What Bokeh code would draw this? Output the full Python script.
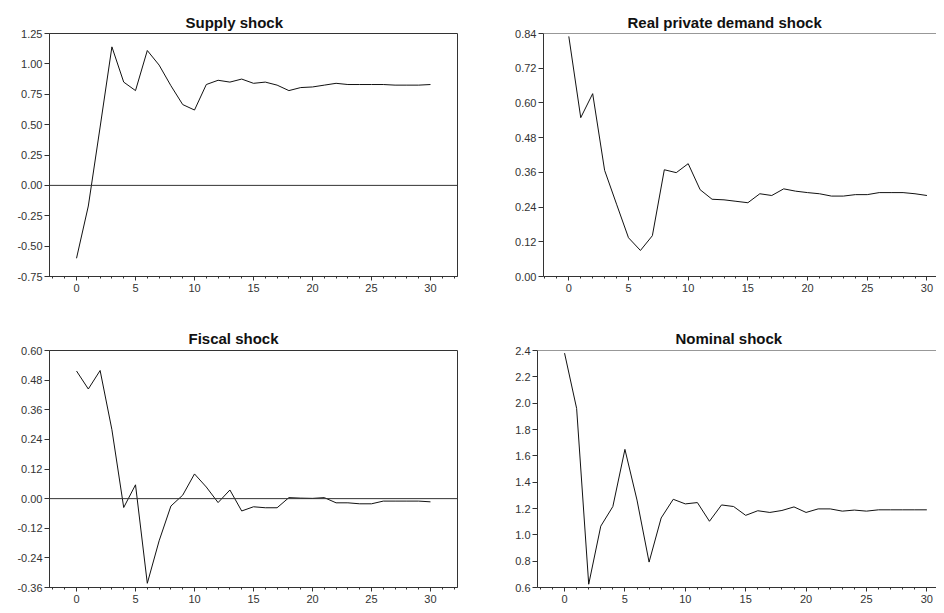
from bokeh.plotting import figure
from bokeh.layouts import column, row
from bokeh.models import FixedTicker, PrintfTickFormatter, Span, Title
from bokeh.embed import file_html
from bokeh.resources import INLINE

periods = list(range(31))

supply = [-0.60, -0.17, 0.48, 1.14, 0.85, 0.78, 1.11, 0.99, 0.82, 0.665, 0.62,
          0.83, 0.865, 0.85, 0.875, 0.84, 0.85, 0.825, 0.78, 0.805, 0.81,
          0.825, 0.84, 0.83, 0.83, 0.83, 0.83, 0.825, 0.825, 0.825, 0.83]
demand = [0.83, 0.549, 0.632, 0.367, 0.25, 0.134, 0.09, 0.141, 0.369, 0.359, 0.39,
          0.30, 0.267, 0.265, 0.26, 0.255, 0.286, 0.28, 0.303, 0.295, 0.29,
          0.286, 0.278, 0.278, 0.283, 0.283, 0.29, 0.29, 0.29, 0.286, 0.28]
fiscal = [0.517, 0.444, 0.519, 0.279, -0.036, 0.056, -0.343, -0.171, -0.03, 0.014, 0.10,
          0.047, -0.016, 0.035, -0.05, -0.033, -0.037, -0.037, 0.004, 0.002, 0.001,
          0.004, -0.017, -0.017, -0.021, -0.021, -0.01, -0.01, -0.01, -0.01, -0.013]
nominal = [2.38, 1.96, 0.625, 1.066, 1.215, 1.649, 1.264, 0.793, 1.128, 1.27, 1.235,
           1.245, 1.103, 1.227, 1.215, 1.148, 1.183, 1.17, 1.185, 1.212, 1.17,
           1.197, 1.197, 1.18, 1.188, 1.18, 1.19, 1.19, 1.19, 1.19, 1.19]

titles = ["Supply shock", "Real private demand shock", "Fiscal shock", "Nominal shock"]
x_ticks = [0, 5, 10, 15, 20, 25, 30]
x_minor = list(range(-2, 33))
y_ticks_supply = [-0.75, -0.50, -0.25, 0.00, 0.25, 0.50, 0.75, 1.00, 1.25]
y_ticks_demand = [0.00, 0.12, 0.24, 0.36, 0.48, 0.60, 0.72, 0.84]
y_ticks_fiscal = [-0.36, -0.24, -0.12, 0.00, 0.12, 0.24, 0.36, 0.48, 0.60]
y_ticks_nominal = [0.6, 0.8, 1.0, 1.2, 1.4, 1.6, 1.8, 2.0, 2.2, 2.4]

FONT = "Liberation Sans"
AX = "#333333"


def make(title, ys, yticks, fmt, xr, w, h, bl, br, bt, bb, toff, tstand, boxed, zero):
    p = figure(width=w, height=h, x_range=xr, y_range=(yticks[0], yticks[-1]),
               output_backend="svg", toolbar_location=None,
               min_border_left=bl, min_border_right=br,
               min_border_top=bt, min_border_bottom=bb)
    p.title = Title(text=title, align="left", offset=toff,
                    text_font=FONT, text_font_size="15px",
                    text_font_style="bold", text_color="#111111", standoff=tstand)
    p.grid.visible = False
    p.background_fill_color = "white"
    p.border_fill_color = "white"
    if boxed:
        p.outline_line_color = AX
        p.outline_line_width = 1
        p.outline_line_alpha = 1
    else:
        p.outline_line_color = None
        p.add_layout(Span(location=yticks[-1], dimension="width",
                          line_color=AX, line_width=1))
    for ax in (p.xaxis[0], p.yaxis[0]):
        ax.axis_line_color = AX
        ax.major_tick_line_color = AX
        ax.major_tick_in = 0
        ax.major_tick_out = 5
        ax.minor_tick_in = 0
        ax.minor_tick_out = 2
        ax.minor_tick_line_color = AX
        ax.major_label_text_font = FONT
        ax.major_label_text_font_size = "11px"
        ax.major_label_text_color = "#333333"
    p.xaxis.ticker = FixedTicker(ticks=x_ticks, minor_ticks=x_minor)
    p.xaxis.major_tick_out = 4
    p.xaxis.major_label_standoff = 3
    p.yaxis.ticker = FixedTicker(ticks=yticks)
    p.yaxis.minor_tick_line_color = None
    p.yaxis.formatter = PrintfTickFormatter(format=fmt)
    p.yaxis.major_label_standoff = 2
    if zero:
        p.add_layout(Span(location=0, dimension="width", line_color=AX, line_width=1))
    p.line(periods, ys, line_color="#111111", line_width=1)
    return p


p1 = make(titles[0], supply, y_ticks_supply, "%.2f", (-2.29, 32.29),
          470, 310, 49, 13, 33, 34, 136, 5, True, True)
p2 = make(titles[1], demand, y_ticks_demand, "%.2f", (-2.12, 30.8),
          466, 310, 73, 0, 33, 34, 84, 5, False, False)
p3 = make(titles[2], fiscal, y_ticks_fiscal, "%.2f", (-2.29, 32.29),
          470, 295, 49, 13, 40, 18, 139, 7, True, True)
p4 = make(titles[3], nominal, y_ticks_nominal, "%.1f", (-2.24, 30.8),
          466, 295, 67, 0, 40, 18, 138, 7, False, False)

layout = column(row(p1, p2, spacing=0), row(p3, p4, spacing=0), spacing=0)

open("out.html", "w").write(file_html(layout, INLINE))
